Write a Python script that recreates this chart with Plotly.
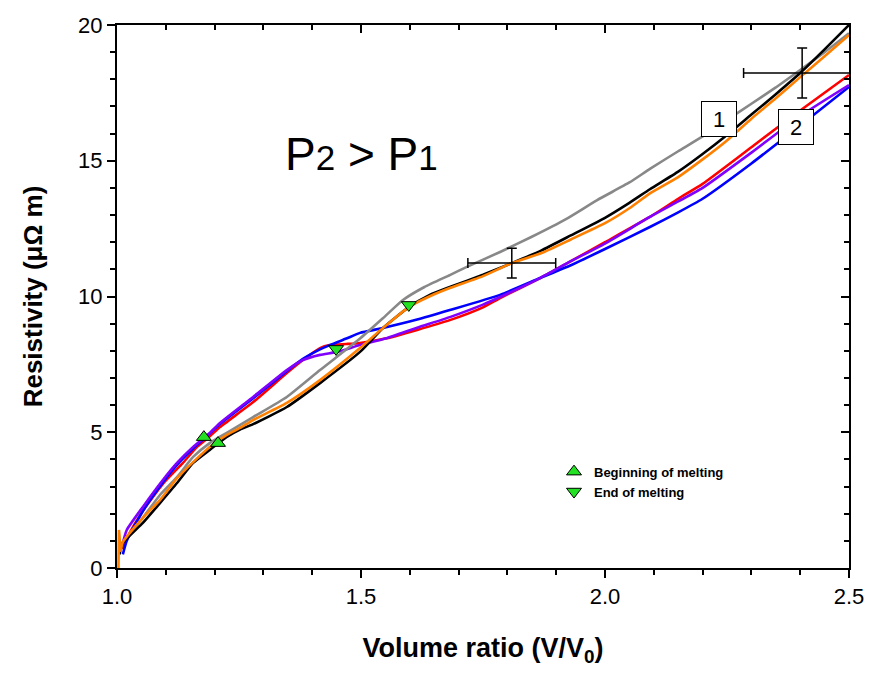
import plotly.graph_objects as go

# ---------------- data ----------------
gray_x = [1.005, 1.012, 1.053, 1.088, 1.123, 1.156, 1.19, 1.225, 1.279, 1.348, 1.416, 1.498, 1.545, 1.586,
          1.63, 1.682, 1.717, 1.785, 1.85, 1.92, 1.984, 2.05, 2.092, 2.15, 2.2, 2.25, 2.3, 2.35, 2.4, 2.45, 2.5]
gray_y = [0.7, 0.95, 1.85, 2.69, 3.35, 4.09, 4.6, 4.98, 5.56, 6.3, 7.29, 8.45, 9.2, 9.87,
          10.35, 10.79, 11.09, 11.64, 12.2, 12.85, 13.55, 14.2, 14.7, 15.35, 15.9, 16.5, 17.1, 17.7, 18.34, 19.0, 19.7]

black_x = [1.005, 1.012, 1.053, 1.088, 1.123, 1.156, 1.19, 1.225, 1.252, 1.279, 1.348, 1.416, 1.498, 1.545,
           1.598, 1.64, 1.682, 1.75, 1.809, 1.87, 1.93, 2.0, 2.05, 2.092, 2.15, 2.2, 2.25, 2.3, 2.35, 2.4, 2.45, 2.5]
black_y = [0.5, 0.92, 1.66, 2.39, 3.13, 3.87, 4.35, 4.83, 5.1, 5.3, 5.93, 6.81, 7.96, 8.84,
           9.61, 10.05, 10.35, 10.8, 11.23, 11.7, 12.25, 12.9, 13.45, 13.95, 14.6, 15.25, 15.95, 16.7, 17.45, 18.23, 19.1, 20.0]

orange_x = [1.007, 1.012, 1.053, 1.088, 1.123, 1.156, 1.19, 1.225, 1.252, 1.279, 1.348, 1.416, 1.498, 1.545,
            1.598, 1.64, 1.682, 1.75, 1.809, 1.87, 1.93, 2.0, 2.05, 2.092, 2.15, 2.2, 2.25, 2.3, 2.35, 2.4, 2.45, 2.5]
orange_y = [0.6, 0.95, 1.85, 2.5, 3.31, 3.9, 4.46, 4.9, 5.16, 5.45, 6.08, 6.92, 8.1, 8.84,
            9.61, 10.0, 10.31, 10.75, 11.23, 11.6, 12.1, 12.7, 13.25, 13.8, 14.4, 15.05, 15.75, 16.55, 17.3, 18.08, 18.85, 19.63]
orange_spike_x = [1.003, 1.004, 1.005, 1.007]
orange_spike_y = [0.0, 1.4, 1.2, 0.6]

red_x = [1.01, 1.02, 1.053, 1.094, 1.135, 1.164, 1.19, 1.211, 1.279, 1.348, 1.381, 1.416, 1.436, 1.47, 1.498,
         1.55, 1.615, 1.682, 1.75, 1.785, 1.867, 1.93, 2.0, 2.092, 2.15, 2.2, 2.3, 2.4, 2.5]
red_y = [0.7, 1.1, 2.1, 3.1, 3.87, 4.46, 4.85, 5.19, 6.11, 7.18, 7.66, 8.1, 8.21, 8.25, 8.29,
         8.45, 8.77, 9.13, 9.6, 9.94, 10.68, 11.3, 12.0, 12.93, 13.6, 14.15, 15.5, 16.85, 18.16]

purple_x = [1.01, 1.02, 1.053, 1.094, 1.123, 1.156, 1.19, 1.211, 1.279, 1.348, 1.381, 1.416, 1.451, 1.498,
            1.55, 1.615, 1.682, 1.75, 1.785, 1.867, 1.93, 2.0, 2.092, 2.15, 2.2, 2.3, 2.4, 2.5]
purple_y = [0.8, 1.4, 2.25, 3.24, 3.87, 4.46, 4.97, 5.34, 6.3, 7.29, 7.66, 7.85, 7.96, 8.21,
            8.45, 8.85, 9.24, 9.7, 9.98, 10.68, 11.3, 11.95, 12.93, 13.5, 14.0, 15.3, 16.65, 17.79]

blue_x = [1.012, 1.02, 1.053, 1.094, 1.123, 1.156, 1.19, 1.211, 1.279, 1.348, 1.381, 1.416, 1.436, 1.47,
          1.498, 1.545, 1.615, 1.682, 1.785, 1.867, 1.93, 2.0, 2.092, 2.15, 2.2, 2.3, 2.4, 2.5]
blue_y = [0.5, 1.0, 2.1, 3.15, 3.8, 4.4, 4.95, 5.3, 6.25, 7.25, 7.7, 8.05, 8.21, 8.45,
          8.66, 8.84, 9.15, 9.5, 10.06, 10.68, 11.15, 11.75, 12.56, 13.1, 13.6, 14.9, 16.3, 17.72]

begin_x = [1.178, 1.207]
begin_y = [4.82, 4.6]
end_x = [1.449, 1.598]
end_y = [8.07, 9.69]

err_x = [1.809, 2.404]
err_y = [11.23, 18.23]
err_dx = [0.09, 0.12]
err_dy = [0.55, 0.92]

x_ticks = [1.0, 1.5, 2.0, 2.5]
x_ticktext = ["1.0", "1.5", "2.0", "2.5"]
y_ticks = [0, 5, 10, 15, 20]

# ---------------- figure ----------------
fig = go.Figure()

series = [
    (red_x, red_y, "#ff0000"),
    (blue_x, blue_y, "#0000ff"),
    (purple_x, purple_y, "#8000ff"),
    (gray_x, gray_y, "#888888"),
    (black_x, black_y, "#000000"),
    (orange_x, orange_y, "#ff8000"),
]
for xs, ys, c in series:
    fig.add_trace(go.Scatter(x=xs, y=ys, mode="lines",
                             line=dict(color=c, width=2.6, shape="spline", smoothing=0.5),
                             showlegend=False, hoverinfo="skip"))
fig.add_trace(go.Scatter(x=orange_spike_x, y=orange_spike_y, mode="lines",
                         line=dict(color="#ff8000", width=2.6),
                         showlegend=False, hoverinfo="skip"))

fig.add_trace(go.Scatter(x=err_x, y=err_y, mode="markers",
                         marker=dict(size=1, color="black"),
                         error_x=dict(type="data", array=err_dx, color="black", thickness=1.5, width=5),
                         error_y=dict(type="data", array=err_dy, color="black", thickness=1.5, width=5),
                         showlegend=False, hoverinfo="skip", cliponaxis=True))

fig.add_trace(go.Scatter(x=begin_x, y=begin_y, mode="markers", name="Beginning of melting",
                         marker=dict(symbol="triangle-up", size=13, color="#22e022",
                                     line=dict(color="black", width=1))))
fig.add_trace(go.Scatter(x=end_x, y=end_y, mode="markers", name="End of melting",
                         marker=dict(symbol="triangle-down", size=13, color="#22e022",
                                     line=dict(color="black", width=1))))

# invisible trace for mirrored inside-tick axes
fig.add_trace(go.Scatter(x=[1.0], y=[0], xaxis="x2", yaxis="y2", mode="markers",
                         marker=dict(opacity=0), showlegend=False, hoverinfo="skip"))

font_family = "Liberation Sans, Arial, sans-serif"

fig.update_layout(
    width=870, height=675,
    margin=dict(l=117, r=21, t=25, b=107, autoexpand=False),
    paper_bgcolor="white", plot_bgcolor="white",
    font=dict(family=font_family, color="black"),
    showlegend=True,
    legend=dict(x=0.597, y=0.205, xanchor="left", yanchor="top",
                bgcolor="rgba(0,0,0,0)", font=dict(size=13, family="Liberation Sans", color="black",
                                                    weight="bold"),
                itemwidth=30, tracegroupgap=0),
    xaxis=dict(range=[1.0, 2.5], tickvals=x_ticks, ticktext=x_ticktext,
               ticks="outside", ticklen=8, tickwidth=1.5, tickcolor="black",
               minor=dict(dtick=0.1, ticks="outside", ticklen=5, tickwidth=1.5, tickcolor="black"),
               showline=True, linecolor="black", linewidth=2, showgrid=False, zeroline=False,
               tickfont=dict(size=22),
               title=dict(text="<b>Volume ratio (V/V<sub>0</sub>)</b>", font=dict(size=27), standoff=30)),
    yaxis=dict(range=[0, 20], tickvals=y_ticks,
               ticks="outside", ticklen=8, tickwidth=1.5, tickcolor="black",
               minor=dict(dtick=1, ticks="outside", ticklen=5, tickwidth=1.5, tickcolor="black"),
               showline=True, linecolor="black", linewidth=2, showgrid=False, zeroline=False,
               tickfont=dict(size=22),
               title=dict(text="<b>Resistivity (μΩ m)</b>", font=dict(size=26), standoff=28)),
    xaxis2=dict(range=[1.0, 2.5], overlaying="x", side="top", anchor="y2", tickvals=x_ticks,
                showticklabels=False, ticks="inside", ticklen=8, tickwidth=1.5, tickcolor="black",
                minor=dict(dtick=0.1, ticks="inside", ticklen=5, tickwidth=1.5, tickcolor="black"),
                showline=True, linecolor="black", linewidth=2, showgrid=False, zeroline=False),
    yaxis2=dict(range=[0, 20], overlaying="y", side="right", anchor="x2", tickvals=y_ticks,
                showticklabels=False, ticks="inside", ticklen=8, tickwidth=1.5, tickcolor="black",
                minor=dict(dtick=1, ticks="inside", ticklen=5, tickwidth=1.5, tickcolor="black"),
                showline=True, linecolor="black", linewidth=2, showgrid=False, zeroline=False),
)

fig.add_annotation(x=1.5, y=15.25, xref="x", yref="y", showarrow=False,
                   text="P<span style='font-size:35px'>2</span> &gt; P<span style='font-size:35px'>1</span>",
                   font=dict(size=46, family=font_family, color="black"))
fig.add_annotation(x=2.2346, y=16.52, xref="x", yref="y", showarrow=False, text="1",
                   font=dict(size=22, family=font_family, color="black"),
                   bgcolor="white", bordercolor="black", borderwidth=1, width=32, height=32)
fig.add_annotation(x=2.392, y=16.24, xref="x", yref="y", showarrow=False, text="2",
                   font=dict(size=22, family=font_family, color="black"),
                   bgcolor="white", bordercolor="black", borderwidth=1, width=32, height=32)

fig.write_html("out.html")
